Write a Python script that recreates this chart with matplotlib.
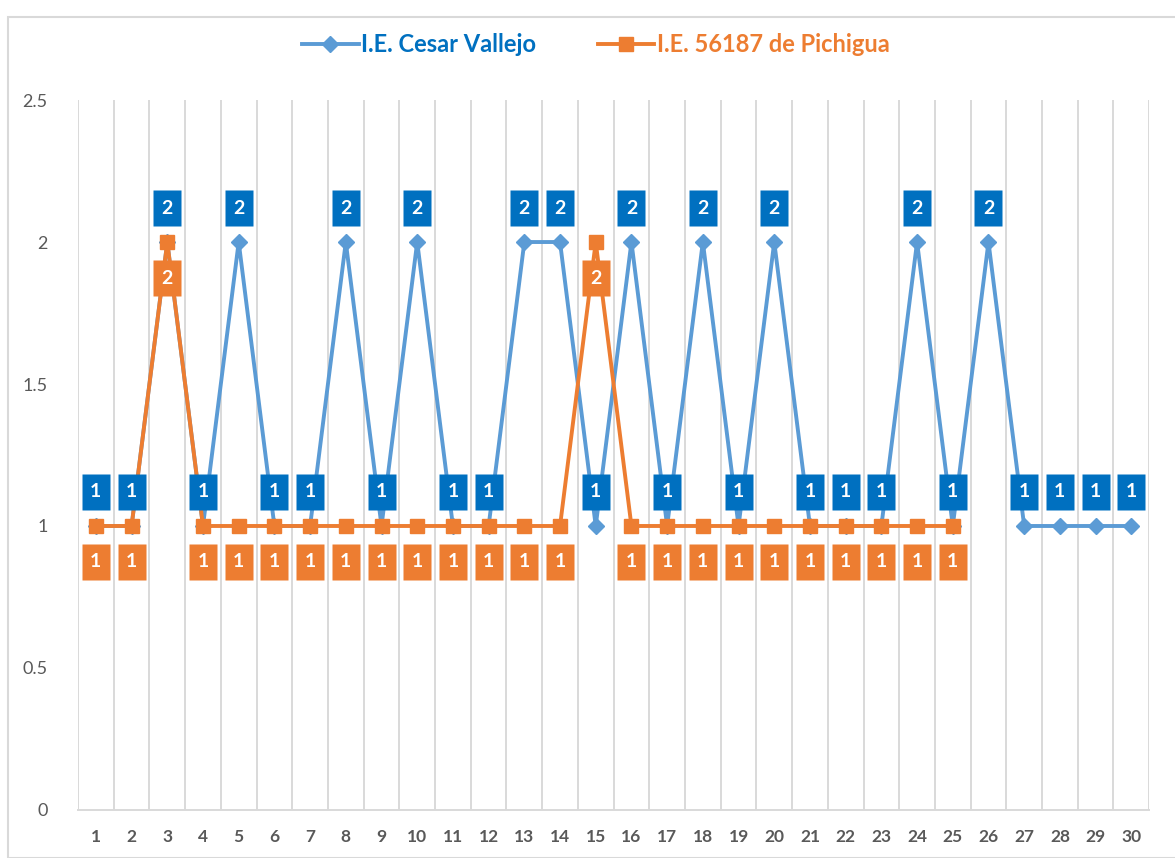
import matplotlib
matplotlib.use('Agg')

import matplotlib.pyplot as plt
from matplotlib.path import Path
from matplotlib.transforms import ScaledTranslation
from matplotlib.patches import Rectangle

plt.rcParams['font.family'] = ['Lato', 'DejaVu Sans']

students = list(range(1, 31))
vallejo = [1, 1, 2, 1, 2, 1, 1, 2, 1, 2, 1, 1, 2, 2, 1, 2, 1, 2, 1, 2,
           1, 1, 1, 2, 1, 2, 1, 1, 1, 1]
pichigua = [1, 1, 2, 1, 1, 1, 1, 1, 1, 1, 1, 1, 1, 1, 2, 1, 1, 1, 1, 1,
            1, 1, 1, 1, 1]
series_names = ['I.E. Cesar Vallejo', 'I.E. 56187 de Pichigua']

BLUE_LINE = '#5B9BD5'
BLUE_LABEL = '#0070C0'
ORANGE = '#ED7D31'
GRID = '#D9D9D9'
TXT = '#595959'

fig = plt.figure(figsize=(11.75, 8.58), dpi=100)
ax = fig.add_axes([0.0664, 0.056, 0.9116, 0.8274])

# chart border
fig.patches.append(Rectangle((8 / 1175, 0), 1.0, 1 - 17 / 858, transform=fig.transFigure,
                             fill=False, edgecolor=GRID, lw=1.5))

x_p = students[:len(pichigua)]
ax.plot(students, vallejo, color=BLUE_LINE, lw=2.8, marker='D', ms=8.5,
        label=series_names[0], zorder=3)
ax.plot(x_p, pichigua, color=ORANGE, lw=2.8, marker='s', ms=10.5,
        label=series_names[1], zorder=4)

# label boxes: rectangle marker 29x37 px
box = Path([(-29, -37), (29, -37), (29, 37), (-29, 37), (-29, -37)],
           [Path.MOVETO, Path.LINETO, Path.LINETO, Path.LINETO, Path.CLOSEPOLY])


def labels(xs, ys, color, dy, z):
    tr = ax.transData + ScaledTranslation(0, dy / 100, fig.dpi_scale_trans)
    ax.plot(xs, ys, linestyle='none', marker=box, ms=26.6, mfc=color,
            mec='none', transform=tr, zorder=z, clip_on=False)
    for x, y in zip(xs, ys):
        ax.text(x, y, str(y), transform=tr, ha='center', va='center',
                color='white', fontsize=14, fontweight='bold', zorder=z + 0.5)


labels(students, vallejo, BLUE_LABEL, 34, 5)
labels(x_p, pichigua, ORANGE, -36, 5)

ax.set_xlim(0.5, 30.5)
ax.set_ylim(0, 2.5)
ax.set_yticks([0, 0.5, 1, 1.5, 2, 2.5])
ax.set_yticklabels(['0', '0.5', '1', '1.5', '2', '2.5'], fontsize=13, color=TXT)
ax.set_xticks(students)
ax.set_xticklabels([str(s) for s in students], fontsize=12.5, fontweight='bold', color=TXT)
ax.tick_params(length=0, pad=14)
ax.tick_params(axis='y', pad=22)

for b in [i + 0.5 for i in range(0, 31)]:
    ax.axvline(b, color=GRID, lw=1.4, zorder=1)
for s in ['top', 'right', 'left']:
    ax.spines[s].set_visible(False)
ax.spines['bottom'].set_color(GRID)
ax.spines['bottom'].set_linewidth(1.4)

leg = ax.legend(loc='center', bbox_to_anchor=(0.507, 1 - 45 / 858), bbox_transform=fig.transFigure,
                ncol=2, frameon=False, handlelength=2.4, columnspacing=2.6,
                handletextpad=0.1, prop={'weight': 'bold', 'size': 17})
for t, c in zip(leg.get_texts(), [BLUE_LABEL, ORANGE]):
    t.set_color(c)

fig.savefig('out.png', dpi=100)
